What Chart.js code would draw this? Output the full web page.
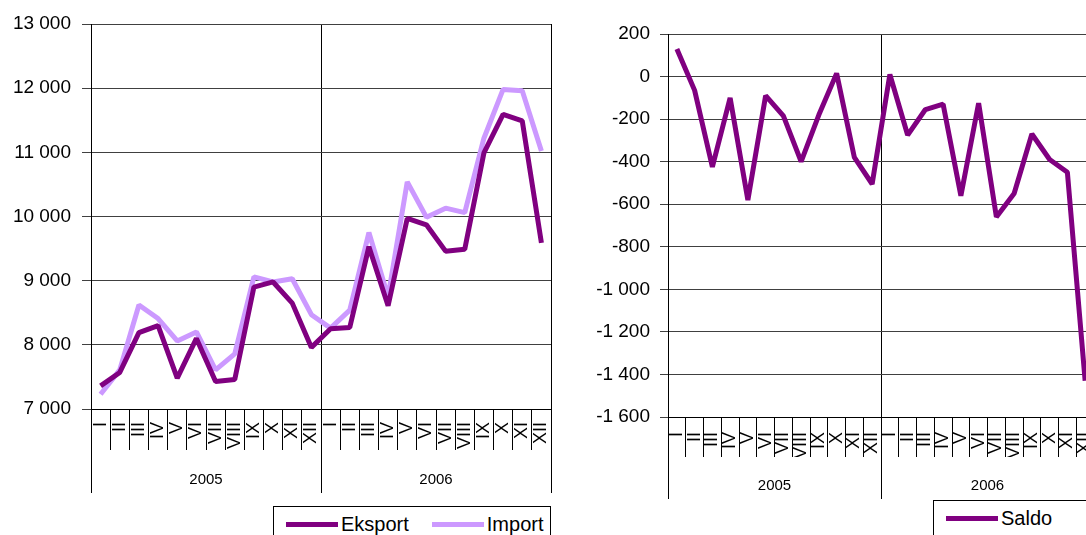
<!DOCTYPE html>
<html>
<head>
<meta charset="utf-8">
<script src="https://cdn.jsdelivr.net/npm/chart.js@4.4.1/dist/chart.umd.min.js"></script>
<style>
  html, body { margin: 0; padding: 0; background: #fff; }
  body { width: 1086px; height: 535px; position: relative; overflow: hidden; font-family: "Liberation Sans", Arial, sans-serif; }
  .wrap { position: absolute; top: 0; height: 535px; overflow: hidden; }
  .legend { position: absolute; height: 36px; box-sizing: border-box; border: 1px solid #000; background: #fff;
            display: flex; align-items: center; padding-left: 12px; }
  .legend .item { display: flex; align-items: center; margin-right: 23px; }
  .legend .sw { width: 52px; height: 5px; margin-right: 3px; }
  .legend .tx { font-size: 20px; line-height: 20px; color: #000; white-space: nowrap; }
</style>
</head>
<body>
<div class="wrap" style="left:0;width:570px;"><canvas id="tradeChart"></canvas></div>
<div class="wrap" style="left:580px;width:506px;"><div style="width:534px;height:535px;"><canvas id="saldoChart"></canvas></div></div>
<div class="legend" id="legend-trade" style="left:273px;top:506px;width:278px;"></div>
<div class="legend" id="legend-saldo" style="left:933px;top:500px;width:200px;"></div>

<script>
// Data
const months = ['I', 'II', 'III', 'IV', 'V', 'VI', 'VII', 'VIII', 'IX', 'X', 'XI', 'XII'];
const years = ['2005', '2006'];
const categories = years.flatMap(() => months);

const eksport = [7360, 7570, 8190, 8300, 7480, 8100, 7430, 7460, 8900, 8980, 8650, 7960,
                 8250, 8270, 9530, 8610, 9970, 9870, 9460, 9490, 10990, 11590, 11490, 9590];
const importValues = [7230, 7610, 8620, 8410, 8060, 8200, 7610, 7860, 9060, 8980, 9030, 8470,
                      8260, 8540, 9750, 8750, 10540, 9990, 10130, 10060, 11220, 11980, 11960, 11020];
const saldo = [130, -65, -425, -100, -580, -90, -185, -400, -180, 15, -380, -505,
               10, -275, -155, -130, -560, -125, -660, -550, -270, -390, -450, -1430];

const tradeTicks = [7000, 8000, 9000, 10000, 11000, 12000, 13000];
const saldoTicks = [-1600, -1400, -1200, -1000, -800, -600, -400, -200, 0, 200];

const FONT = '"Liberation Sans", Arial, sans-serif';
const DARK = '#800080';
const LIGHT = '#cc99ff';

// "13 000", "-1 200"
const fmt = v => (v < 0 ? '-' : '') + String(Math.abs(v)).replace(/\B(?=(\d{3})+(?!\d))/g, ' ');

function buildOptions(ticks, geo) {
    return {
        responsive: true,
        maintainAspectRatio: false,
        animation: false,
        layout: { padding: geo.padding },
        plugins: { legend: { display: false }, tooltip: { enabled: false } },
        elements: {
            point: { radius: 0, hoverRadius: 0 },
            line: { borderWidth: 5, tension: 0, borderJoinStyle: 'bevel', borderCapStyle: 'butt' }
        },
        scales: {
            x: {
                type: 'category', position: 'bottom', offset: true, weight: 0,
                grid: { offset: true, drawOnChartArea: false, drawTicks: true, tickLength: geo.monthTick, color: '#000' },
                border: { display: true, color: '#000' },
                ticks: { autoSkip: false, minRotation: 90, maxRotation: 90, padding: geo.monthPad,
                         color: '#000', font: { family: FONT, size: 18 } },
                afterFit: s => { s.height = geo.monthTick; }
            },
            years: {
                type: 'category', position: 'bottom', labels: years, offset: true, weight: 1,
                grid: { offset: true, drawOnChartArea: true, drawTicks: true, tickLength: geo.yearTick, color: '#000' },
                border: { display: false },
                ticks: { padding: geo.yearPad, color: '#000', font: { family: FONT, size: 15 } },
                afterFit: s => { s.height = 50; }
            },
            y: {
                min: Math.min(...ticks),
                max: Math.max(...ticks),
                ticks: { stepSize: ticks[1] - ticks[0], callback: fmt, padding: geo.yPad,
                         color: '#000', font: { family: FONT, size: 19 } },
                grid: { color: '#404040', tickColor: '#404040', tickLength: geo.yTick },
                border: { display: true, color: '#000' },
                afterFit: s => { s.width = geo.yWidth; }
            }
        }
    };
}

function buildLegend(id, chart) {
    const box = document.getElementById(id);
    chart.data.datasets.forEach(ds => {
        const item = document.createElement('span');
        item.className = 'item';
        const sw = document.createElement('span');
        sw.className = 'sw';
        sw.style.background = ds.borderColor;
        const tx = document.createElement('span');
        tx.className = 'tx';
        tx.textContent = ds.label;
        item.append(sw, tx);
        box.append(item);
    });
}

// Eksport / Import
const tradeChart = new Chart(document.getElementById('tradeChart'), {
    type: 'line',
    data: {
        labels: categories,
        datasets: [
            { label: 'Eksport', data: eksport, borderColor: DARK, backgroundColor: DARK },
            { label: 'Import', data: importValues, borderColor: LIGHT, backgroundColor: LIGHT }
        ]
    },
    options: buildOptions(tradeTicks, {
        padding: { top: 24, right: 19, bottom: 35, left: 0 },
        yWidth: 91, yTick: 9, yPad: 11,
        monthTick: 41, monthPad: -28,
        yearTick: 43, yearPad: -22
    })
});

// Saldo
const saldoChart = new Chart(document.getElementById('saldoChart'), {
    type: 'line',
    data: {
        labels: categories,
        datasets: [
            { label: 'Saldo', data: saldo, borderColor: DARK, backgroundColor: DARK }
        ]
    },
    options: buildOptions(saldoTicks, {
        padding: { top: 34, right: 20, bottom: 28, left: 0 },
        yWidth: 88, yTick: 8, yPad: 10,
        monthTick: 40, monthPad: -25,
        yearTick: 42, yearPad: -22
    })
});

buildLegend('legend-trade', tradeChart);
buildLegend('legend-saldo', saldoChart);
</script>
</body>
</html>
